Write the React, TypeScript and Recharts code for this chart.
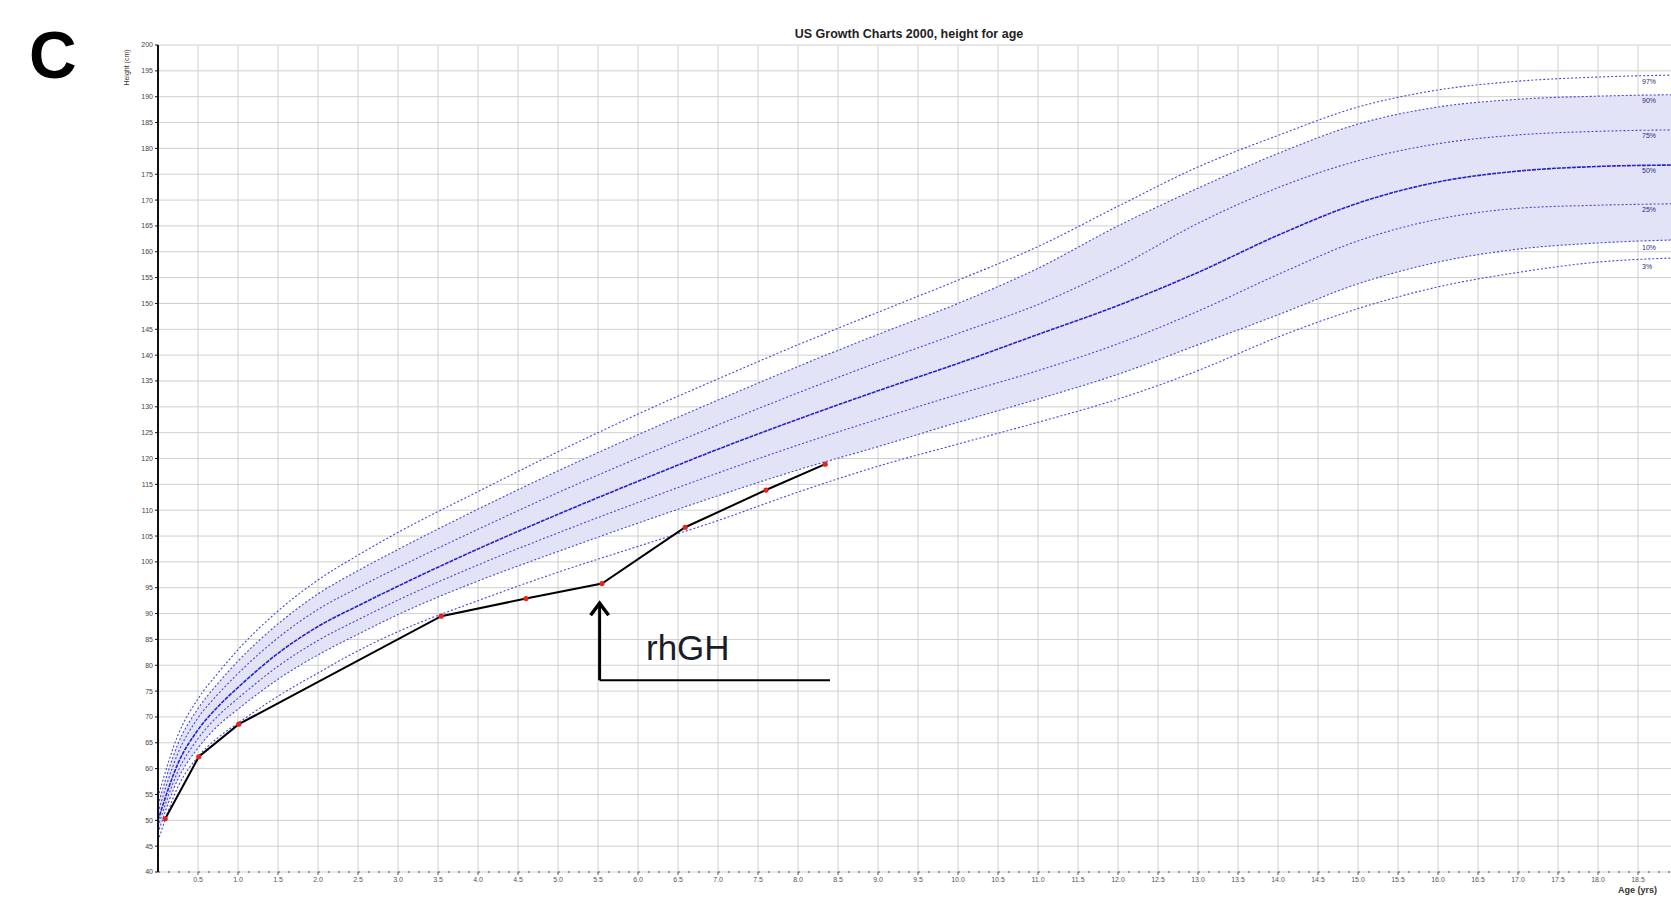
import React from "react";
import {
  ComposedChart,
  Line,
  Area,
  XAxis,
  YAxis,
  CartesianGrid,
  ReferenceLine,
  ReferenceDot,
} from "recharts";

// reference curves, boys height-for-age (cm)
const ages = [0, 0.25, 0.5, 0.75, 1, 1.5, 2, 2.5, 3, 4, 5, 6, 7, 8, 9, 10, 11, 12, 13, 14, 15, 16, 17, 18, 19, 20];
const p97 = [54.5, 66.5, 73.5, 78.5, 83.0, 90.5, 96.5, 101.3, 105.7, 113.6, 121.3, 128.6, 135.4, 142.0, 148.3, 154.5, 161.0, 168.8, 176.4, 182.5, 188.0, 191.3, 193.0, 193.8, 194.2, 194.4];
const p90 = [53.0, 64.8, 71.6, 76.5, 80.8, 88.0, 93.8, 98.3, 102.4, 110.2, 117.6, 124.6, 131.3, 137.8, 144.0, 150.0, 156.8, 165.0, 172.3, 179.0, 184.7, 188.0, 189.5, 190.1, 190.4, 190.5];
const p75 = [51.5, 63.0, 69.8, 74.4, 78.4, 85.3, 90.8, 95.0, 98.9, 106.3, 113.4, 120.1, 126.5, 132.7, 138.6, 144.2, 149.8, 157.0, 165.5, 172.4, 177.6, 180.9, 182.6, 183.3, 183.6, 183.8];
const p50 = [50.0, 61.0, 67.5, 72.0, 75.7, 82.3, 87.5, 91.5, 95.3, 102.5, 109.2, 115.6, 121.8, 127.6, 133.1, 138.4, 144.0, 149.6, 156.0, 163.2, 169.4, 173.5, 175.6, 176.5, 176.8, 177.0];
const p25 = [48.8, 59.5, 65.8, 70.2, 73.6, 79.8, 84.8, 88.8, 92.6, 99.4, 105.6, 111.5, 117.2, 122.6, 127.6, 132.4, 137.0, 142.2, 148.5, 155.6, 162.1, 166.3, 168.4, 169.0, 169.3, 169.5];
const p10 = [47.5, 58.0, 64.0, 68.3, 71.5, 77.3, 82.0, 86.0, 89.8, 96.3, 102.0, 107.5, 112.8, 117.8, 122.3, 127.0, 131.5, 136.3, 142.0, 147.8, 153.8, 158.0, 160.5, 161.7, 162.3, 162.5];
const p3 = [46.0, 56.5, 62.3, 66.0, 68.8, 74.0, 78.5, 82.8, 86.5, 92.5, 98.0, 103.0, 108.0, 113.5, 118.5, 122.8, 127.0, 131.5, 137.0, 143.5, 149.0, 153.2, 156.0, 158.0, 158.8, 159.0];
const curveNames = ["97%", "90%", "75%", "50%", "25%", "10%", "3%"];

// patient measurements
const visitAges = [0.09, 0.51, 1.01, 3.54, 4.6, 5.55, 6.59, 7.6, 8.34];
const visitHeights = [50.3, 62.3, 68.6, 89.5, 92.9, 95.8, 106.7, 113.9, 118.9];

// rhGH start marker
const rhghAge = 5.52;
const rhghBase = 77.1;
const rhghTip = 92.0;
const rhghEnd = 8.4;

const xTicks = [0.5, 1, 1.5, 2, 2.5, 3, 3.5, 4, 4.5, 5, 5.5, 6, 6.5, 7, 7.5, 8, 8.5, 9, 9.5, 10, 10.5, 11, 11.5, 12, 12.5, 13, 13.5, 14, 14.5, 15, 15.5, 16, 16.5, 17, 17.5, 18, 18.5, 19, 19.5, 20];
const lastShownTick = 18.5; // labels further right are off the page
const yTicks = [40, 45, 50, 55, 60, 65, 70, 75, 80, 85, 90, 95, 100, 105, 110, 115, 120, 125, 130, 135, 140, 145, 150, 155, 160, 165, 170, 175, 180, 185, 190, 195, 200];

const curveData = ages.map((age, i) => ({
  age,
  p97: p97[i],
  p90: p90[i],
  p75: p75[i],
  p50: p50[i],
  p25: p25[i],
  p10: p10[i],
  p3: p3[i],
  band: [p10[i], p90[i]],
}));

const visitData = visitAges.map((age, i) => ({ age, height: visitHeights[i] }));

const curveKeys = ["p97", "p90", "p75", "p50", "p25", "p10", "p3"];
const curveSeries = [p97, p90, p75, p50, p25, p10, p3];

const BLUE = "#4646d4";

export default function App() {
  return (
    <div
      style={{
        position: "absolute",
        left: 0,
        top: 0,
        width: 1671,
        height: 898,
        overflow: "hidden",
        background: "#fff",
        fontFamily: "'Liberation Sans', Arial, sans-serif",
      }}
    >
      <div style={{ position: "absolute", left: 29, top: 17, fontSize: 66, fontWeight: 700, color: "#000" }}>C</div>
      <div
        style={{
          position: "absolute",
          left: 0,
          width: 1818,
          top: 27,
          textAlign: "center",
          fontSize: 12.5,
          fontWeight: 700,
          color: "#222",
        }}
      >
        US Growth Charts 2000, height for age
      </div>
      <div
        style={{
          position: "absolute",
          left: 96,
          top: 64,
          width: 60,
          textAlign: "center",
          fontSize: 7,
          color: "#333",
          transform: "rotate(-90deg)",
        }}
      >
        Height (cm)
      </div>
      <div style={{ position: "absolute", left: 1618, top: 885, fontSize: 9, fontWeight: 700, color: "#333" }}>
        Age (yrs)
      </div>

      <ComposedChart
        width={1768}
        height={898}
        data={curveData}
        margin={{ top: 45, right: 10, bottom: 0, left: 0 }}
        style={{ position: "absolute", left: 0, top: 0 }}
      >
        <CartesianGrid stroke="#cfcfcf" strokeWidth={1} />
        <XAxis
          dataKey="age"
          type="number"
          domain={[0, 20]}
          ticks={xTicks}
          interval={0}
          height={26}
          axisLine={{ stroke: "#555", strokeDasharray: "2 8" }}
          tickLine={{ stroke: "#555" }}
          tickSize={3}
          tick={{ fontSize: 7, fill: "#555" }}
          tickFormatter={(v: number) => (v > lastShownTick ? "" : v.toFixed(1))}
          allowDataOverflow
        />
        <YAxis
          type="number"
          domain={[40, 200]}
          ticks={yTicks}
          interval={0}
          width={158}
          axisLine={{ stroke: "#111", strokeWidth: 2 }}
          tickLine={{ stroke: "#111" }}
          tickSize={3}
          tickMargin={2}
          tick={{ fontSize: 7, fill: "#444" }}
          allowDataOverflow
        />
        <Area
          dataKey="band"
          type="monotone"
          stroke="none"
          fill="#e3e3f8"
          fillOpacity={1}
          isAnimationActive={false}
        />
        {curveKeys.map((key) => (
          <Line
            key={key}
            dataKey={key}
            type="monotone"
            stroke={key === "p50" ? "#2424c8" : BLUE}
            strokeWidth={key === "p50" ? 1.6 : 1.1}
            strokeDasharray={key === "p50" ? "4 1" : "2 2"}
            dot={false}
            activeDot={false}
            isAnimationActive={false}
          />
        ))}
        {curveSeries.map((series, i) => (
          <ReferenceDot
            key={curveNames[i]}
            x={18.55}
            y={series[23]}
            r={0}
            shape={(props: any) => (
              <text x={props.cx} y={props.cy + 7} fontSize={7} fill="#2a2a80">
                {curveNames[i]}
              </text>
            )}
          />
        ))}
        <Line
          data={visitData}
          dataKey="height"
          type="linear"
          stroke="#000"
          strokeWidth={2}
          dot={{ r: 2.6, fill: "#e8231c", stroke: "none" }}
          activeDot={false}
          isAnimationActive={false}
        />
        <ReferenceLine
          segment={[
            { x: rhghAge, y: rhghBase },
            { x: rhghAge, y: rhghTip - 0.3 },
          ]}
          stroke="#000"
          strokeWidth={3}
        />
        <ReferenceLine
          segment={[
            { x: rhghAge, y: rhghBase },
            { x: rhghEnd, y: rhghBase },
          ]}
          stroke="#000"
          strokeWidth={2}
        />
        <ReferenceDot
          x={rhghAge}
          y={rhghTip}
          r={0}
          shape={(props: any) => (
            <path
              d={`M ${props.cx - 9} ${props.cy + 12} L ${props.cx} ${props.cy} L ${props.cx + 9} ${props.cy + 12}`}
              fill="none"
              stroke="#000"
              strokeWidth={3.5}
              strokeLinejoin="miter"
            />
          )}
        />
        <ReferenceDot
          x={6.1}
          y={81}
          r={0}
          shape={(props: any) => (
            <text x={props.cx} y={props.cy} fontSize={35} fill="#1a1c28" fontFamily="'Liberation Sans', Arial, sans-serif">
              rhGH
            </text>
          )}
        />
      </ComposedChart>
    </div>
  );
}
